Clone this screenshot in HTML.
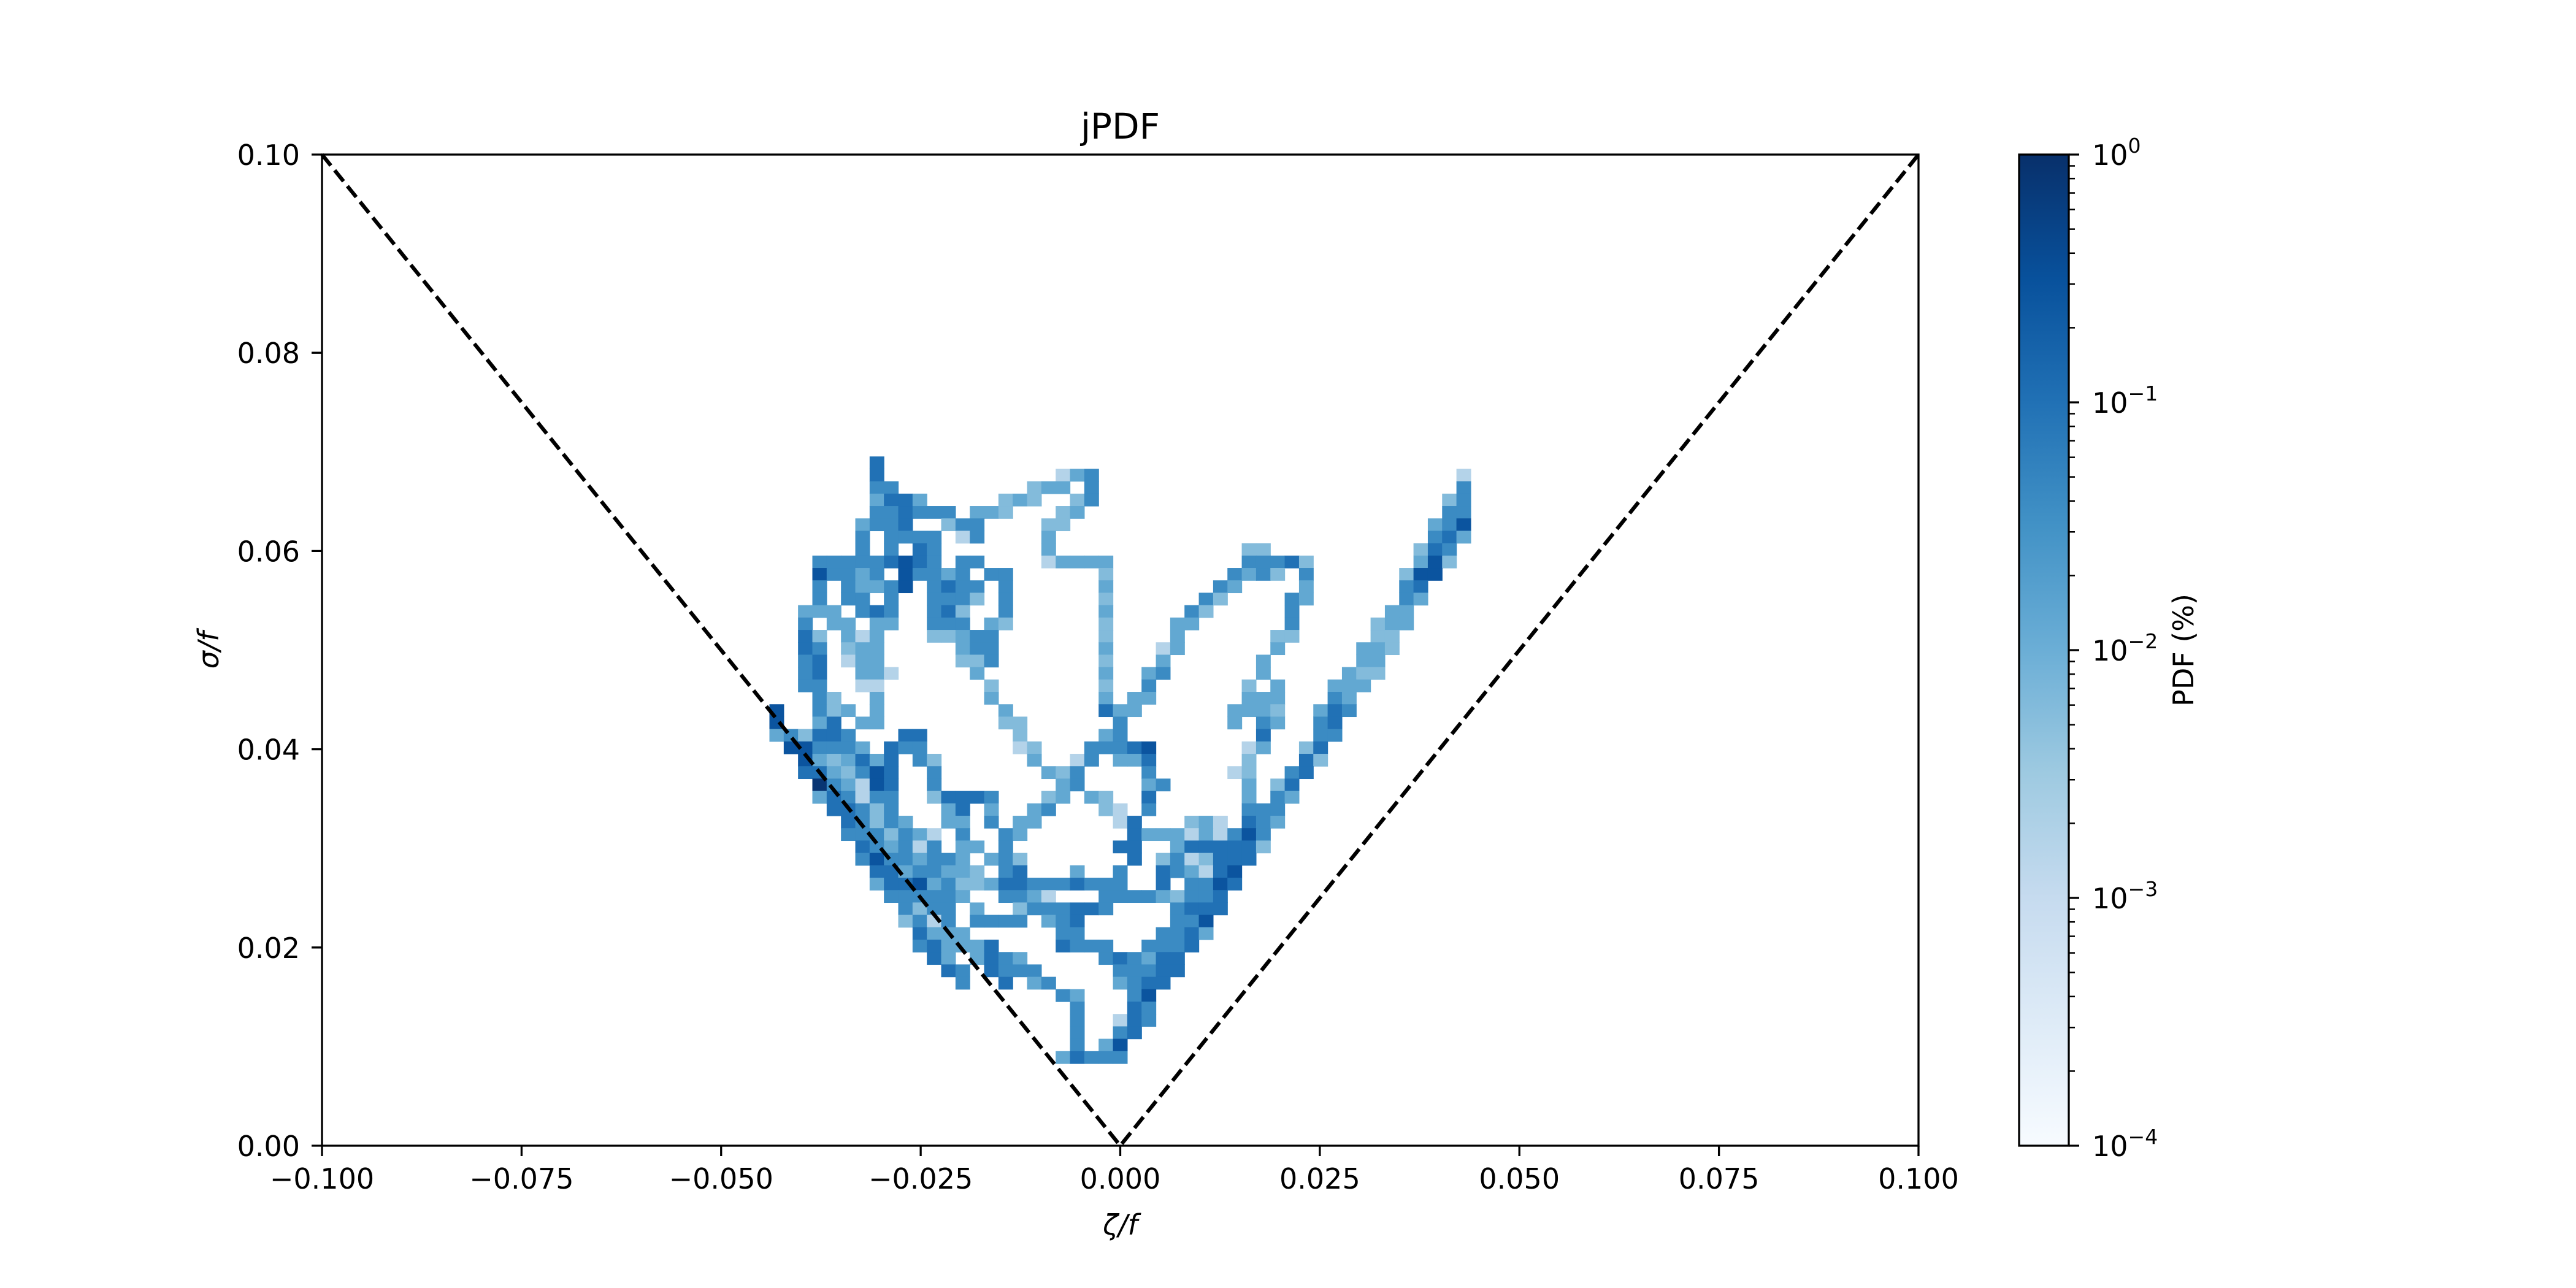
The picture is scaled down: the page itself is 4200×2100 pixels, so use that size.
<!DOCTYPE html>
<html><head><meta charset="utf-8"><title>jPDF</title>
<style>html,body{margin:0;padding:0;background:#fff;}svg{display:block;font-family:"DejaVu Sans","Liberation Sans",sans-serif;}</style>
</head><body>
<svg id="chart" width="4200" height="2100" viewBox="0 0 4200 2100" xmlns="http://www.w3.org/2000/svg">
<defs>
<linearGradient id="bluesGrad" x1="0" y1="1" x2="0" y2="0">
<stop offset="0" stop-color="#f7fbff"/><stop offset="0.125" stop-color="#deebf7"/><stop offset="0.25" stop-color="#c6dbef"/><stop offset="0.375" stop-color="#9ecae1"/><stop offset="0.5" stop-color="#6baed6"/><stop offset="0.625" stop-color="#4292c6"/><stop offset="0.75" stop-color="#2171b5"/><stop offset="0.875" stop-color="#08519c"/><stop offset="1" stop-color="#08306b"/>
</linearGradient>
<clipPath id="plotClip"><rect x="525" y="252" width="2603" height="1616"/></clipPath>
</defs>
<rect width="4200" height="2100" fill="#fff"/>
<g id="cells" clip-path="url(#plotClip)"></g>
<g id="lines"></g>
<g id="axes"></g>
<g id="cbar"></g>
</svg>
<script>
// ---- data ----
const xTicks = [-0.1, -0.075, -0.05, -0.025, 0, 0.025, 0.05, 0.075, 0.1];
const xTickLabels = ["\u22120.100","\u22120.075","\u22120.050","\u22120.025","0.000","0.025","0.050","0.075","0.100"];
const yTicks = [0, 0.02, 0.04, 0.06, 0.08, 0.1];
const yTickLabels = ["0.00","0.02","0.04","0.06","0.08","0.10"];
const cbarExponents = [0, -1, -2, -3, -4];
// PDF value represented by each shade level 1..7
const levelValues = [0, 0.0017, 0.0058, 0.013, 0.04, 0.1, 0.28, 0.83];
// bin geometry (data units)
const zetaEdge0 = -0.04395;
const zetaBin = 0.001793;
const sigmaTop0 = 0.06954;
const sigmaBin = 0.00125;
// rows from top: "col:level" pairs
const binRows = [
"7:5",
"7:5 20:1 21:3 22:4 48:1",
"7:4 8:4 18:2 19:3 20:3 22:4 48:4",
"7:3 8:5 9:5 10:3 16:2 17:3 18:2 21:2 22:4 47:2 48:4",
"7:4 8:4 9:5 10:4 11:4 12:4 14:3 15:3 16:2 20:2 21:3 47:4 48:4",
"6:3 7:4 8:4 9:5 12:2 13:4 14:4 19:2 20:2 46:3 47:4 48:6",
"6:4 8:4 9:4 10:4 11:4 13:1 14:4 19:3 46:4 47:5 48:3",
"6:4 8:4 10:5 11:4 19:3 33:2 34:2 45:2 46:5 47:4",
"3:4 4:4 5:4 6:4 7:4 8:5 9:6 10:5 11:4 13:4 14:4 19:1 20:3 21:3 22:3 23:3 33:4 34:4 35:4 36:5 37:2 45:3 46:6 47:2",
"3:6 4:4 5:4 6:3 7:4 9:6 10:4 11:4 12:3 13:4 15:4 16:4 23:2 32:4 33:3 34:4 35:2 37:4 44:2 45:6 46:6",
"3:4 5:4 6:3 7:3 8:4 9:6 11:4 12:5 13:4 14:4 16:4 23:3 31:4 32:3 37:3 44:4 45:5",
"3:4 5:4 6:4 8:4 11:4 12:4 13:4 14:2 16:4 23:2 30:4 31:2 36:4 37:3 44:4 45:3",
"2:3 3:3 4:3 6:4 7:5 8:4 11:4 12:5 13:2 16:4 23:3 29:4 30:2 36:4 43:3 44:3",
"2:4 4:3 5:3 7:3 8:3 11:4 12:4 13:4 15:3 16:2 23:2 28:3 29:3 36:4 42:2 43:3 44:3",
"2:5 3:2 5:3 6:1 7:3 11:2 12:2 13:3 14:4 15:4 23:2 28:3 35:2 36:2 42:2 43:2",
"2:5 3:4 5:2 6:3 7:3 13:3 14:4 15:4 23:3 27:1 28:3 35:3 41:3 42:3 43:2",
"2:4 3:5 5:1 6:3 7:3 13:2 14:2 15:4 23:2 27:3 34:3 41:3 42:3",
"2:4 3:5 6:3 7:3 8:1 14:3 23:3 26:3 27:4 34:3 40:3 41:2 42:2",
"2:4 3:4 6:1 7:1 15:2 23:2 26:4 33:2 35:3 39:3 40:3 41:3",
"3:4 4:2 7:3 15:3 23:3 25:3 26:3 33:3 34:3 35:3 39:4 40:3",
"0:6 3:4 4:2 5:3 7:3 16:3 23:5 24:3 25:3 32:3 33:3 34:3 35:2 38:3 39:5 40:4",
"0:6 3:3 4:5 6:3 7:3 16:2 17:2 24:4 32:3 34:4 35:3 38:4 39:5",
"0:3 1:4 2:2 3:5 4:5 5:4 9:5 10:5 17:2 23:3 24:4 34:5 38:4 39:4",
"1:6 2:6 3:4 4:4 5:4 6:3 8:5 9:4 10:4 17:1 18:2 22:4 23:4 24:4 25:5 26:6 33:1 34:3 37:2 38:5",
"2:6 3:3 4:2 5:3 6:5 7:3 8:5 10:4 11:2 18:3 21:1 22:4 24:3 25:3 26:5 33:2 37:5 38:2",
"2:5 3:5 4:3 5:2 6:4 7:6 8:5 11:4 19:3 20:2 21:4 26:4 32:1 33:2 36:4 37:5",
"3:7 4:4 5:3 6:1 7:6 8:5 11:4 20:3 21:4 26:3 27:4 33:3 35:2 36:5",
"3:3 4:5 5:4 6:1 7:4 8:4 11:2 12:5 13:5 14:5 15:4 19:2 20:3 22:3 23:2 26:5 33:3 35:4 36:3",
"4:5 5:5 6:4 7:2 8:4 12:3 13:5 15:3 18:3 19:4 23:2 24:1 26:4 33:4 34:4 35:4",
"5:5 6:4 7:2 8:4 9:3 12:3 13:3 15:4 17:3 18:3 24:1 25:5 29:2 30:3 31:1 33:5 34:4 35:3",
"5:4 6:4 7:4 8:2 9:4 10:3 11:1 13:4 16:4 17:3 25:5 26:3 27:3 28:3 29:1 30:3 31:1 32:4 33:6 34:4",
"6:5 7:4 8:3 9:4 10:1 11:4 13:3 14:3 16:4 24:5 25:5 28:3 29:5 30:5 31:5 32:5 33:5 34:2",
"6:4 7:6 8:4 9:4 10:3 11:4 12:4 13:3 15:3 16:4 17:2 25:5 27:2 28:4 29:1 30:2 31:5 32:5 33:5",
"7:5 8:5 9:3 10:4 11:4 12:3 13:3 14:2 16:4 17:5 21:3 24:4 27:5 28:4 29:3 30:1 31:5 32:6",
"7:3 8:5 9:5 10:6 11:3 12:4 13:2 14:2 15:3 16:5 17:5 18:4 19:4 20:4 21:5 22:4 23:4 24:4 27:5 29:4 30:4 31:6 32:5",
"8:4 9:4 10:4 11:4 12:4 13:3 16:4 17:4 18:3 19:1 23:4 24:4 25:4 26:4 27:3 28:2 29:4 30:4 31:5",
"9:4 10:2 11:4 12:4 14:3 17:2 18:4 19:4 20:4 21:5 22:5 23:4 28:4 29:5 30:5 31:5",
"9:2 10:4 11:1 12:4 14:4 15:4 16:4 17:4 19:3 20:4 21:5 28:4 29:4 30:6",
"10:5 11:3 12:3 13:3 20:4 21:4 27:4 28:4 29:5 30:3",
"10:4 11:5 12:3 13:3 14:3 15:5 20:5 21:4 22:4 23:4 26:4 27:4 28:4 29:5",
"11:5 12:3 14:3 15:5 16:4 17:3 23:4 24:5 25:4 26:3 27:5 28:5",
"12:5 13:4 15:5 16:4 17:4 18:4 24:4 25:4 26:4 27:5 28:5",
"13:4 16:5 18:3 19:4 24:3 25:4 26:5 27:5",
"20:4 21:3 25:4 26:6",
"21:4 25:5 26:4",
"21:4 24:1 25:5 26:4",
"21:4 24:4 25:5",
"21:4 23:3 24:6",
"20:3 21:5 22:4 23:4 24:4"
];

// ---- scales ----
const PL=525, PR=3128, PT=252, PB=1868;
const xS = v => PL + (v + 0.1) / 0.2 * (PR - PL);
const yS = v => PB - v / 0.1 * (PB - PT);
const CB = {l:3292, r:3373, t:252, b:1868};
const cS = e => CB.b - (e + 4) / 4 * (CB.b - CB.t);

const stops = [[0,[247,251,255]],[0.125,[222,235,247]],[0.25,[198,219,239]],[0.375,[158,202,225]],[0.5,[107,174,214]],[0.625,[66,146,198]],[0.75,[33,113,181]],[0.875,[8,81,156]],[1,[8,48,107]]];
function blues(v){
  let t = (Math.log10(v) + 4) / 4; t = Math.max(0, Math.min(1, t));
  for (let i=1;i<stops.length;i++){ if (t<=stops[i][0]){ const a=stops[i-1], b=stops[i]; const f=(t-a[0])/(b[0]-a[0]);
    return 'rgb('+a[1].map((c,k)=>Math.round(c+(b[1][k]-c)*f)).join(',')+')'; } }
  return 'rgb(8,48,107)';
}
const NS='http://www.w3.org/2000/svg';
function mk(tag, attrs, parent){ const e=document.createElementNS(NS,tag); for (const k in attrs) e.setAttribute(k, attrs[k]); parent.appendChild(e); return e; }

// ---- heatmap ----
const gCells = document.getElementById('cells');
binRows.forEach((row, r) => {
  row.split(' ').forEach(p => {
    const [c, lv] = p.split(':').map(Number);
    const z0 = zetaEdge0 + c * zetaBin, z1 = z0 + zetaBin;
    const s1 = sigmaTop0 - r * sigmaBin, s0 = s1 - sigmaBin;
    const x0 = xS(z0), x1 = xS(z1), y0 = yS(s1), y1 = yS(s0);
    const el = mk('rect', {x:x0.toFixed(2), y:y0.toFixed(2), width:(x1-x0+0.6).toFixed(2), height:(y1-y0+0.6).toFixed(2), fill:blues(levelValues[lv])}, gCells);
    
    
  });
});

// ---- dashed lines ----
const gL = document.getElementById('lines');
const dl = mk('polyline', {points: xS(-0.1)+','+yS(0.1)+' '+xS(0)+','+yS(0)+' '+xS(0.1)+','+yS(0.1), fill:'none', stroke:'#000', 'stroke-width':6.25, 'stroke-dasharray':'23 10'}, gL);



// ---- axes ----
const gA = document.getElementById('axes');
const frame = mk('rect', {x:PL, y:PT, width:PR-PL, height:PB-PT, fill:'none', stroke:'#000', 'stroke-width':3.3}, gA);


xTicks.forEach((v,i) => {
  const x = xS(v);
  const t = mk('line', {x1:x, x2:x, y1:PB, y2:PB+17, stroke:'#000', 'stroke-width':3.3}, gA);
  
  
  const l = mk('text', {x:x, y:PB+70, 'text-anchor':'middle', 'font-size':46}, gA);
  l.textContent = xTickLabels[i];
  
  
});
yTicks.forEach((v,i) => {
  const y = yS(v);
  const t = mk('line', {x1:PL-17, x2:PL, y1:y, y2:y, stroke:'#000', 'stroke-width':3.3}, gA);
  
  
  const l = mk('text', {x:489, y:y+17, 'text-anchor':'end', 'font-size':46}, gA);
  l.textContent = yTickLabels[i];
  
  
});
const title = mk('text', {x:(PL+PR)/2, y:226, 'text-anchor':'middle', 'font-size':58}, gA);
title.textContent = 'jPDF';


const xl = mk('text', {x:(PL+PR)/2, y:2013, 'text-anchor':'middle', 'font-size':46, 'font-style':'italic'}, gA);
xl.textContent = 'ζ/f';


const yl = mk('text', {x:0, y:0, 'text-anchor':'middle', 'font-size':46, 'font-style':'italic', transform:'translate(356,1060) rotate(-90)'}, gA);
yl.textContent = 'σ/f';



// ---- colorbar ----
const gC = document.getElementById('cbar');
const cr = mk('rect', {x:CB.l, y:CB.t, width:CB.r-CB.l, height:CB.b-CB.t, fill:'url(#bluesGrad)', stroke:'#000', 'stroke-width':3.3}, gC);


cbarExponents.forEach(e => {
  const y = cS(e);
  const t = mk('line', {x1:CB.r, x2:CB.r+17, y1:y, y2:y, stroke:'#000', 'stroke-width':3.3}, gC);
  
  
  const l = mk('text', {x:3411, y:y+17, 'font-size':46}, gC);
  
  
  const b = document.createElementNS(NS,'tspan'); b.textContent='10'; l.appendChild(b);
  const s = document.createElementNS(NS,'tspan'); s.setAttribute('dy','-20'); s.setAttribute('font-size','33'); s.textContent = e===0 ? '0' : '\u2212'+Math.abs(e); l.appendChild(s);
  if (e > -4) {
    for (let m=2;m<=9;m++){
      const ym = cS(e-1+Math.log10(m));
      const mt = mk('line', {x1:CB.r, x2:CB.r+10, y1:ym, y2:ym, stroke:'#000', 'stroke-width':2.5}, gC);
      
      
    }
  }
});
const cl = mk('text', {x:0, y:0, 'text-anchor':'middle', 'font-size':46, transform:'translate(3576,1060) rotate(-90)'}, gC);
cl.textContent = 'PDF (%)';


</script>
</body></html>
